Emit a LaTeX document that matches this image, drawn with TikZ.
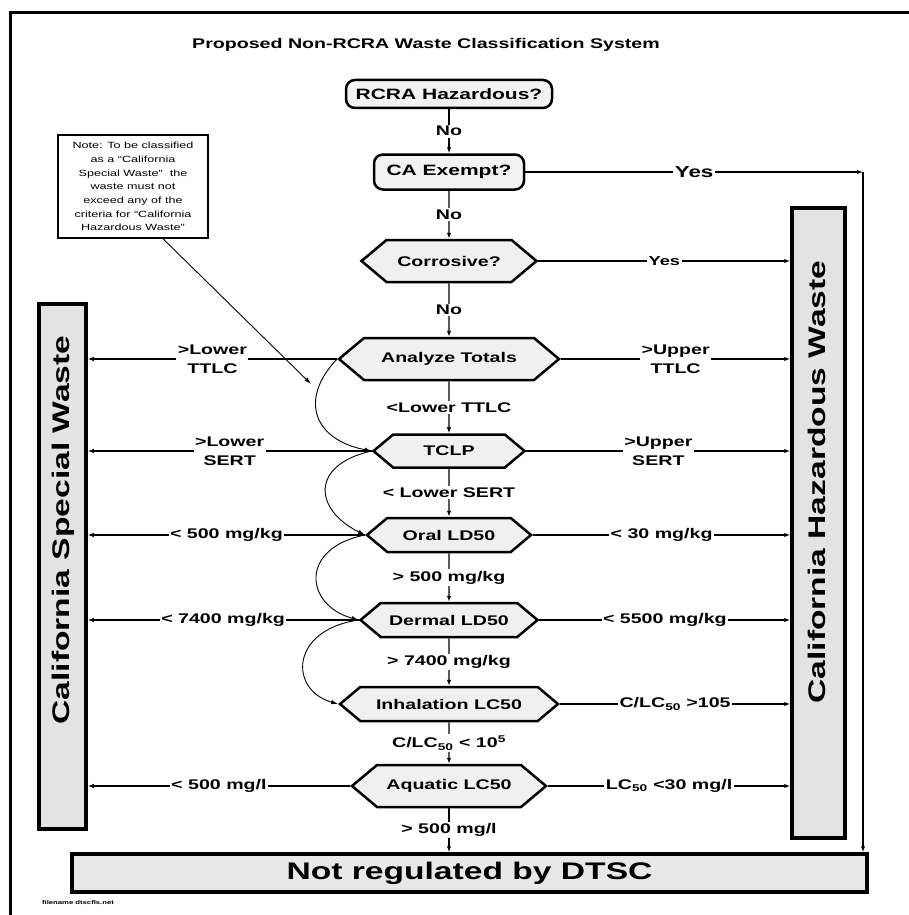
\documentclass[tikz,border=0pt]{standalone}
\usepackage{fontspec}
\setmainfont{Liberation Sans}[FakeStretch=1.4]
\usetikzlibrary{arrows.meta,shapes.symbols}
\begin{document}
\begin{tikzpicture}[x=1pt,y=-1pt,
  lbl/.style={fill=white, inner sep=1.5pt, font=\fontsize{14}{19}\selectfont\bfseries, align=center},
  conn/.style={line width=1.3pt},
  arr/.style={conn, -{Latex[length=6pt,width=4.5pt]}},
  curvearr/.style={line width=0.9pt, -{Latex[length=7pt,width=4.5pt]}},
  hexbox/.style={shape=signal, signal to=west and east, signal pointer angle=80, draw, line width=2.5pt, fill=gray!12, font=\fontsize{14}{16}\selectfont\bfseries, inner sep=0pt},
  roundbox/.style={rectangle, rounded corners=9pt, draw, line width=2.5pt, fill=gray!10, font=\fontsize{15}{17}\selectfont\bfseries, inner sep=0pt},
  sidebox/.style={rectangle, draw, line width=3.5pt, fill=gray!22, inner sep=0pt},
  sidetext/.style={rotate=90, font=\fontsize{24}{26}\selectfont\bfseries, inner sep=0pt}
]
\useasboundingbox (0,0) rectangle (909,915);
% frame
\draw[line width=3pt] (10,915) -- (10,13) -- (909,13);

\node[font=\fontsize{14}{16}\selectfont\bfseries] (title) at (426,45) {Proposed Non-RCRA Waste Classification System};

% side boxes
\node[sidebox, minimum width=47pt, minimum height=525pt] (lbox) at (62.5,566.5) {};
\node[sidetext] (ltxt) at (63,530) {California Special Waste};
\node[sidebox, minimum width=53pt, minimum height=630pt] (rbox) at (818.5,523) {};
\node[sidetext] (rtxt) at (817,482) {California Hazardous Waste};

% bottom box
\node[rectangle, draw, line width=3.5pt, fill=gray!18, minimum width=795pt, minimum height=38pt, inner sep=0pt, font=\fontsize{24}{26}\selectfont\bfseries] (nr) at (469.5,873) {Not regulated by DTSC};

% decision nodes
\node[roundbox, minimum width=206pt, minimum height=28pt] (rcra) at (449,94) {RCRA Hazardous?};
\node[roundbox, minimum width=150pt, minimum height=35pt] (ca) at (449,172) {CA Exempt?};
\node[hexbox, minimum width=175pt, minimum height=42pt] (cor) at (449,261) {Corrosive?};
\node[hexbox, minimum width=220pt, minimum height=42pt] (tot) at (449,359) {Analyze Totals};
\node[hexbox, minimum width=151pt, minimum height=33pt] (tclp) at (449,451) {TCLP};
\node[hexbox, minimum width=164pt, minimum height=34pt] (oral) at (449,535) {Oral LD50};
\node[hexbox, minimum width=177pt, minimum height=34pt] (derm) at (449,620) {Dermal LD50};
\node[hexbox, minimum width=218pt, minimum height=34pt] (inh) at (449,704) {Inhalation LC50};
\node[hexbox, minimum width=194pt, minimum height=42pt] (aq) at (449,786) {Aquatic LC50};

% note
\node[rectangle, draw, line width=1.5pt, fill=white, minimum width=150pt, minimum height=103pt, inner sep=0pt, align=center, font=\fontsize{9}{13.7}\selectfont] (note) at (133,186.5) {Note: To be classified\\as a “California\\Special Waste”\ \ the\\waste must not\\exceed any of the\\criteria for “California\\Hazardous Waste”};
\coordinate (notetip) at (311,384);
\draw[curvearr] ([xshift=30pt]note.south) -- (notetip);

% vertical flow
\draw[arr] (rcra) -- node[lbl]{No} (ca);
\draw[arr] (ca) -- node[lbl]{No} (cor);
\draw[arr] (cor) -- node[lbl]{No} (tot);
\draw[arr] (tot) -- node[lbl]{<Lower TTLC} (tclp);
\draw[arr] (tclp) -- node[lbl]{< Lower SERT} (oral);
\draw[arr] (oral) -- node[lbl]{> 500 mg/kg} (derm);
\draw[arr] (derm) -- node[lbl]{> 7400 mg/kg} (inh);
\draw[arr] (inh) -- node[lbl]{C/LC\textsubscript{50} < 10\textsuperscript{5}} (aq);
\draw[arr] (aq.south) -- node[lbl]{> 500 mg/l} (aq.south |- nr.north);

% CA exempt yes
\coordinate (corner) at (863,172);
\draw[arr] (ca.east) -- node[lbl, font=\fontsize{16}{18}\selectfont\bfseries]{Yes} (corner);
\draw[arr] (corner) -- (corner |- nr.north);

% right branches
\draw[arr] (cor.east) -- node[lbl, font=\fontsize{13}{15}\selectfont\bfseries]{Yes} (cor.east -| rbox.west);
\draw[arr] (tot.east) -- node[lbl]{>Upper\\TTLC} (tot.east -| rbox.west);
\draw[arr] (tclp.east) -- node[lbl]{>Upper\\SERT} (tclp.east -| rbox.west);
\draw[arr] (oral.east) -- node[lbl]{< 30 mg/kg} (oral.east -| rbox.west);
\draw[arr] (derm.east) -- node[lbl]{< 5500 mg/kg} (derm.east -| rbox.west);
\draw[arr] (inh.east) -- node[lbl]{C/LC\textsubscript{50} >105} (inh.east -| rbox.west);
\draw[arr] (aq.east) -- node[lbl]{LC\textsubscript{50} <30 mg/l} (aq.east -| rbox.west);

% left branches
\draw[arr] (tot.west) -- node[lbl]{>Lower\\TTLC} (tot.west -| lbox.east);
\draw[arr] (tclp.west) -- node[lbl]{>Lower\\SERT} (tclp.west -| lbox.east);
\draw[arr] (oral.west) -- node[lbl]{< 500 mg/kg} (oral.west -| lbox.east);
\draw[arr] (derm.west) -- node[lbl]{< 7400 mg/kg} (derm.west -| lbox.east);
\draw[arr] (aq.west) -- node[lbl]{< 500 mg/l} (aq.west -| lbox.east);

% curved arrows
\draw[curvearr] (tot.west) .. controls +(-39,41) and +(-57,-11) .. (tclp.west);
\draw[curvearr] (tclp.west) .. controls +(-62,14) and +(-51,-25) .. (oral.west);
\draw[curvearr] (oral.west) .. controls +(-66,13) and +(-54,-15) .. (derm.west);
\draw[curvearr] (derm.west) .. controls +(-69,10) and +(-49,-14) .. (inh.west);

\node[font=\fontsize{5.5}{6}\selectfont\bfseries] (foot) at (78,903) {filename dtscfls.net};
\end{tikzpicture}
\end{document}
